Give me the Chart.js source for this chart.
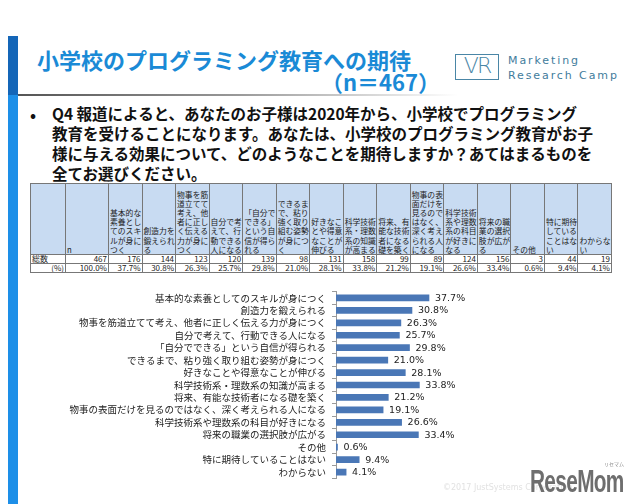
<!DOCTYPE html>
<html lang="ja">
<head>
<meta charset="utf-8">
<script src="https://cdn.jsdelivr.net/npm/chart.js@4/dist/chart.umd.min.js"></script>
<style>
  html, body { margin: 0; padding: 0; background: #fff; }
  #page {
    position: relative; width: 640px; height: 504px; overflow: hidden;
    font-family: "Noto Sans CJK JP", "Noto Sans", sans-serif; color: #111;
  }
  .strip-top { position: absolute; left: 8px; top: 36px; width: 10px; height: 59px; background: #1466b8; }
  .strip-bot { position: absolute; left: 8px; top: 95px; width: 10px; height: 409px; background: #1d8fe8; }
  .rule {
    position: absolute; left: 18px; top: 94px; width: 440px; height: 2px;
    background: linear-gradient(to right, #555 0%, #999 50%, rgba(255,255,255,0) 100%);
  }
  .title {
    position: absolute; left: 37px; top: 46px; font-size: 22px; font-weight: bold;
    color: #1a8ad6; line-height: 26px; white-space: nowrap;
  }
  .n {
    position: absolute; right: 200px; top: 68px; font-size: 22px; font-weight: bold;
    color: #1a8ad6; line-height: 26px; white-space: nowrap;
  }
  .logo-box {
    position: absolute; left: 455px; top: 54px; width: 44px; height: 26px;
    border: 1.5px solid #4a86a6; box-sizing: border-box;
    font-family: "DejaVu Sans", sans-serif; font-size: 22px; line-height: 22px;
    color: #4a86a6; text-align: center; letter-spacing: -2px; font-weight: 200;
  }
  .logo-text {
    position: absolute; left: 508px; top: 53px; font-family: "DejaVu Sans", sans-serif;
    font-size: 11px; line-height: 15px; color: #3f7c9c; letter-spacing: 1.9px;
  }
  .bullet { position: absolute; left: 30px; top: 102px; font-size: 16px; font-weight: bold; }
  .question {
    position: absolute; left: 52px; top: 103px; font-size: 15.5px; font-weight: bold;
    line-height: 20px; white-space: nowrap; color: #111;
  }
  table.grid {
    position: absolute; left: 30px; top: 183px; border-collapse: collapse;
    table-layout: fixed; width: 582px; font-size: 7.8px; line-height: 9px; color: #222;
  }
  table.grid th, table.grid td { border: 1px solid #777; padding: 0 0 0 1px; overflow: hidden; white-space: nowrap; }
  table.grid th {
    background: #c8dbf2; font-weight: normal; text-align: left; vertical-align: bottom;
    height: 70px; line-height: 9.2px;
  }
  table.grid td { text-align: right; height: 8px; line-height: 8px; font-size: 8px; padding: 0 1px 0 0; }
  .watermark {
    position: absolute; left: 443px; top: 483px; font-family: "DejaVu Sans", sans-serif;
    font-size: 8px; color: #e2e2e2; white-space: nowrap;
  }
  .resemom {
    position: absolute; left: 530px; top: 463px; font-family: "Liberation Sans", sans-serif;
    font-weight: bold; font-size: 32px; line-height: 36px; color: #6e6e6e; letter-spacing: -1px;
    transform: scaleX(0.65); transform-origin: left top; white-space: nowrap;
  }
  .resemom-kana { position: absolute; left: 604px; top: 460px; font-size: 5px; color: #888; }
  #chartBox { position: absolute; left: 30px; top: 280px; width: 460px; height: 210px; }
</style>
</head>
<body>
<div id="page">
  <div class="strip-top"></div>
  <div class="strip-bot"></div>
  <div class="rule"></div>
  <div class="title">小学校のプログラミング教育への期待</div>
  <div class="n">（n＝467）</div>
  <div class="logo-box">VR</div>
  <div class="logo-text">Marketing<br>Research Camp</div>

  <div class="bullet">•</div>
  <div class="question">Q4 報道によると、あなたのお子様は2020年から、小学校でプログラミング<br>教育を受けることになります。あなたは、小学校のプログラミング教育がお子<br>様に与える効果について、どのようなことを期待しますか？あてはまるものを<br>全てお選びください。</div>

  <table class="grid" id="grid"></table>

  <div id="chartBox"><canvas id="bars"></canvas></div>

  <div class="watermark">©2017 JustSystems Corporation</div>
  <div class="resemom-kana">リセマム</div>
  <div class="resemom">ReseMom</div>
</div>

<script>
/* ---- Data ---- */
const categories = [
  '基本的な素養としてのスキルが身につく',
  '創造力を鍛えられる',
  '物事を筋道立てて考え、他者に正しく伝える力が身につく',
  '自分で考えて、行動できる人になる',
  '「自分でできる」という自信が得られる',
  'できるまで、粘り強く取り組む姿勢が身につく',
  '好きなことや得意なことが伸びる',
  '科学技術系・理数系の知識が高まる',
  '将来、有能な技術者になる礎を築く',
  '物事の表面だけを見るのではなく、深く考えられる人になる',
  '科学技術系や理数系の科目が好きになる',
  '将来の職業の選択肢が広がる',
  'その他',
  '特に期待していることはない',
  'わからない',
];

// table header text, wrapped as in the source sheet
const headerLines = [
  ['基本的な', '素養とし', 'てのスキ', 'ルが身に', 'つく'],
  ['創造力を', '鍛えられ', 'る'],
  ['物事を筋', '道立てて', '考え、他', '者に正し', 'く伝える', '力が身に', 'つく'],
  ['自分で考', 'えて、行', '動できる', '人になる'],
  ['「自分で', 'できる」', 'という自', '信が得ら', 'れる'],
  ['できるま', 'で、粘り', '強く取り', '組む姿勢', 'が身につ', 'く'],
  ['好きなこ', 'とや得意', 'なことが', '伸びる'],
  ['科学技術', '系・理数', '系の知識', 'が高まる'],
  ['将来、有', '能な技術', '者になる', '礎を築く'],
  ['物事の表', '面だけを', '見るので', 'はなく、', '深く考え', 'られる人', 'になる'],
  ['科学技術', '系や理数', '系の科目', 'が好きに', 'なる'],
  ['将来の職', '業の選択', '肢が広が', 'る'],
  ['その他'],
  ['特に期待', 'している', 'ことはな', 'い'],
  ['わからな', 'い'],
];

const totalN   = 467;
const counts   = [176, 144, 123, 120, 139, 98, 131, 158, 99, 89, 124, 156, 3, 44, 19];
const percents = [37.7, 30.8, 26.3, 25.7, 29.8, 21.0, 28.1, 33.8, 21.2, 19.1, 26.6, 33.4, 0.6, 9.4, 4.1];

/* ---- Table ---- */
function buildTable() {
  const t = document.getElementById('grid');
  let html = '<colgroup><col style="width:35px"><col style="width:43px">';
  for (let i = 0; i < categories.length; i++) html += '<col>';
  html += '</colgroup>';

  html += '<tr><th></th><th>n</th>';
  for (const lines of headerLines) html += `<th>${lines.join('<br>')}</th>`;
  html += '</tr>';

  html += `<tr><td style="text-align:left;padding-left:1px">総数</td><td>${totalN}</td>`;
  for (const c of counts) html += `<td>${c}</td>`;
  html += '</tr>';

  html += '<tr><td>(%)</td><td>100.0%</td>';
  for (const p of percents) html += `<td>${p.toFixed(1)}%</td>`;
  html += '</tr>';

  t.innerHTML = html;
}
buildTable();

/* ---- Bar chart ---- */
const valueLabels = {
  id: 'valueLabels',
  afterDatasetsDraw(chart) {
    const { ctx } = chart;
    const meta = chart.getDatasetMeta(0);
    ctx.save();
    ctx.font = '9.5px "DejaVu Sans", sans-serif';
    ctx.fillStyle = '#222';
    ctx.textAlign = 'left';
    ctx.textBaseline = 'middle';
    meta.data.forEach((bar, i) => {
      ctx.fillText(percents[i].toFixed(1) + '%', bar.x + 6, bar.y + 0.5);
    });
    ctx.restore();
  },
};

new Chart(document.getElementById('bars'), {
  type: 'bar',
  data: {
    labels: categories,
    datasets: [{
      data: percents,
      backgroundColor: '#4a77b6',
      barThickness: 6,
    }],
  },
  options: {
    indexAxis: 'y',
    responsive: true,
    maintainAspectRatio: false,
    animation: false,
    layout: { padding: { top: 5, bottom: 5, right: 6, left: 0 } },
    plugins: { legend: { display: false }, tooltip: { enabled: false } },
    scales: {
      x: { display: false, min: 0, max: 60 },
      y: {
        afterFit(scale) { scale.width = 306; },
        border: { display: true, color: '#9a9a9a' },
        grid: { drawOnChartArea: false, drawTicks: true, tickLength: 4, color: '#9a9a9a' },
        ticks: {
          padding: 6,
          autoSkip: false,
          color: '#222',
          font: { family: '"Noto Sans CJK JP", sans-serif', size: 9.5 },
        },
      },
    },
  },
  plugins: [valueLabels],
});
</script>
</body>
</html>
